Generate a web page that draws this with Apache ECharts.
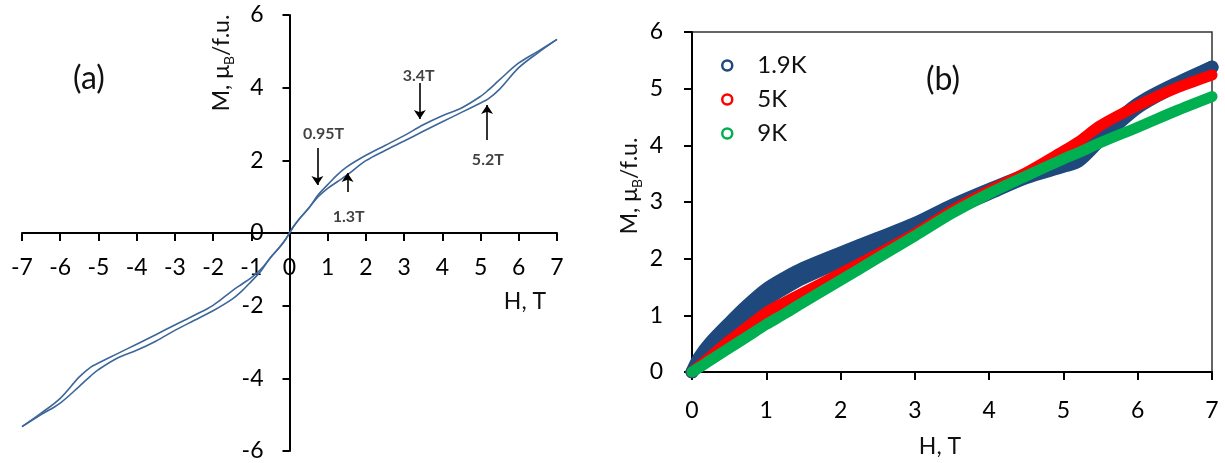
<!DOCTYPE html>
<html><head><meta charset="utf-8">
<script src="https://cdn.jsdelivr.net/npm/echarts@6/dist/echarts.min.js"></script>
<style>html,body{margin:0;padding:0;background:#fff}#c{width:1225px;height:463px}</style>
</head><body><div id="c"></div>
<script>
// ---------- Panel (a): hysteresis loop ----------
const hA = [-7, -6.5, -6, -5.5, -5.2, -5, -4.5, -4, -3.5, -3, -2.5, -2, -1.5, -1.25, -1, -0.75, -0.5, -0.25, -0.1, 0,
            0.1, 0.25, 0.5, 0.75, 1, 1.25, 1.5, 2, 2.5, 3, 3.5, 4, 4.5, 5, 5.2, 5.5, 6, 6.5, 7];
const mSweepUp = [-5.33, -5.0, -4.68, -4.22, -3.93, -3.76, -3.44, -3.23, -2.98, -2.68, -2.41, -2.14, -1.82, -1.6, -1.33, -1.05, -0.68, -0.38, -0.17, 0,
                  0.17, 0.38, 0.68, 1.0, 1.23, 1.41, 1.59, 1.99, 2.27, 2.53, 2.8, 3.06, 3.32, 3.58, 3.69, 3.96, 4.55, 4.96, 5.33];
const mSweepDown = [-5.33, -4.96, -4.55, -3.96, -3.69, -3.58, -3.32, -3.06, -2.8, -2.53, -2.27, -1.99, -1.59, -1.41, -1.23, -1.0, -0.68, -0.38, -0.17, 0,
                    0.17, 0.38, 0.68, 1.05, 1.33, 1.6, 1.82, 2.14, 2.41, 2.68, 2.98, 3.23, 3.44, 3.76, 3.93, 4.22, 4.68, 5.0, 5.33];
const annText = ['0.95T', '1.3T', '3.4T', '5.2T'];
const annPos = [[0.89, 2.72], [1.55, 0.44], [3.38, 4.32], [5.19, 2.01]];
const arrowFrom = [[0.73, 2.34], [1.52, 1.13], [3.41, 4.13], [5.17, 2.56]];
const arrowTo = [[0.73, 1.32], [1.52, 1.65], [3.41, 3.14], [5.17, 3.52]];

// ---------- Panel (b): M(H) at three temperatures ----------
const hB = [0, 0.1, 0.25, 0.5, 0.75, 1, 1.25, 1.5, 2, 2.5, 3, 3.5, 4, 4.5, 5, 5.2, 5.5, 6, 6.5, 7];
const m19KUpper = [0, 0.26, 0.52, 0.86, 1.18, 1.46, 1.66, 1.83, 2.1, 2.36, 2.62, 2.94, 3.22, 3.48, 3.69, 3.79, 4.18, 4.73, 5.08, 5.38];
const m19KLower = [0, 0.16, 0.38, 0.68, 0.98, 1.27, 1.48, 1.66, 1.95, 2.23, 2.52, 2.86, 3.15, 3.43, 3.63, 3.72, 4.1, 4.67, 5.04, 5.38];
const m5K = [0, 0.11, 0.27, 0.55, 0.8, 1.05, 1.23, 1.4, 1.74, 2.08, 2.44, 2.85, 3.2, 3.52, 3.9, 4.06, 4.35, 4.7, 5.0, 5.24];
const m9K = [0, 0.08, 0.21, 0.42, 0.63, 0.84, 1.03, 1.23, 1.62, 2.01, 2.4, 2.8, 3.15, 3.46, 3.76, 3.87, 4.05, 4.32, 4.6, 4.86];
const legendNames = ['1.9K', '5K', '9K'];
const colors = ['#1f497d', '#ff0000', '#00b050'];

const FF = 'Lato, "Open Sans", "DejaVu Sans", sans-serif';
const zip = (xs, ys) => xs.map((x, i) => [x, ys[i]]);

// axis ranges
const xA = {min: -7, max: 7, interval: 1}, yA = {min: -6, max: 6, interval: 2};
const xB = {min: 0, max: 7, interval: 1}, yB = {min: 0, max: 6, interval: 1};
const gridA = {left: 22, top: 15, width: 535, height: 436};
const gridB = {left: 692, top: 32, width: 520, height: 340};
// panel (a) axes cross at the origin: shift each axis from the grid edge to zero
const xAOffset = -gridA.height * (0 - yA.min) / (yA.max - yA.min);
const yAOffset = -gridA.width * (0 - xA.min) / (xA.max - xA.min);

const chart = echarts.init(document.getElementById('c'), null, {renderer: 'canvas'});

const blackLine = () => ({color: '#000', width: 2});
const mkAxis = (o) => Object.assign({
  type: 'value',
  splitLine: {show: false},
  axisLine: {show: true, onZero: false, lineStyle: blackLine()},
  axisTick: {show: true, inside: false, length: 8, lineStyle: blackLine()},
  axisLabel: {color: '#000', fontSize: 23, fontFamily: FF}
}, o);

const bandStyle = (c, w) => ({color: c, width: w, cap: 'round', join: 'round'});
const TOP = {zlevel: 1, z: 100};
const yTitle = (x, y) => Object.assign({type: 'text', x: x, y: y, rotation: Math.PI / 2,
  style: {text: '{n|M, μ}{s|B}{n|/f.u.}', align: 'center', verticalAlign: 'middle', fill: '#111',
    rich: {n: {fontSize: 23, fontFamily: FF, lineHeight: 28, fill: '#111'},
           s: {fontSize: 14, fontFamily: FF, lineHeight: 14, verticalAlign: 'bottom', fill: '#111'}}}}, TOP);
const plainText = (x, y, t, size) => Object.assign({type: 'text', x: x, y: y,
  style: {text: t, font: size + 'px ' + FF, fill: '#111', align: 'center', verticalAlign: 'middle'}}, TOP);

const option = {
  animation: false,
  backgroundColor: '#fff',
  grid: [
    Object.assign({show: false, outerBoundsMode: 'none', containLabel: false}, gridA),
    Object.assign({show: true, outerBoundsMode: 'none', containLabel: false, borderColor: '#333', borderWidth: 1.5,
                   backgroundColor: 'transparent'}, gridB)
  ],
  xAxis: [
    mkAxis(Object.assign({gridIndex: 0, position: 'bottom', offset: xAOffset,
      axisLabel: {color: '#000', fontSize: 23, fontFamily: FF, margin: 23}}, xA)),
    mkAxis(Object.assign({gridIndex: 1, position: 'bottom',
      axisLabel: {color: '#000', fontSize: 23, fontFamily: FF, margin: 27}}, xB))
  ],
  yAxis: [
    mkAxis(Object.assign({gridIndex: 0, position: 'left', offset: yAOffset,
      axisTick: {show: true, inside: false, length: 7, lineStyle: blackLine()},
      axisLabel: {color: '#000', fontSize: 23, fontFamily: FF, margin: 26}}, yA)),
    mkAxis(Object.assign({gridIndex: 1, position: 'left',
      axisLabel: {color: '#000', fontSize: 23, fontFamily: FF, margin: 29}}, yB))
  ],
  legend: {
    left: 716, top: 48, orient: 'vertical', itemGap: 9, itemWidth: 10, itemHeight: 10,
    textStyle: {fontSize: 24, fontFamily: FF, color: '#111', lineHeight: 25, padding: [0, 0, 0, 20]},
    data: legendNames.map((n, i) => ({name: n, icon: 'circle',
      itemStyle: {color: '#fff', borderColor: colors[i], borderWidth: 2.5}}))
  },
  series: [
    {name: 'loop-up', type: 'line', xAxisIndex: 0, yAxisIndex: 0, data: zip(hA, mSweepUp),
     showSymbol: false, smooth: 0.35, lineStyle: {color: '#3d6699', width: 1.6},
     markLine: {silent: true, symbol: ['none', 'arrow'], symbolSize: 9,
       label: {show: false}, lineStyle: {color: '#000', width: 1.6, type: 'solid'},
       data: arrowFrom.map((p, i) => [{coord: p}, {coord: arrowTo[i]}])}},
    {name: 'loop-down', type: 'line', xAxisIndex: 0, yAxisIndex: 0, data: zip(hA, mSweepDown),
     showSymbol: false, smooth: 0.35, lineStyle: {color: '#3d6699', width: 1.6}},
    {name: 'annotations', type: 'scatter', xAxisIndex: 0, yAxisIndex: 0, symbolSize: 0, silent: true,
     data: annPos.map((p, i) => [p[0], p[1], annText[i]]),
     label: {show: true, position: 'inside', formatter: p => p.data[2],
       fontSize: 16, fontWeight: 'bold', fontFamily: FF, color: '#111'}},
    {name: legendNames[0], type: 'line', xAxisIndex: 1, yAxisIndex: 1, data: zip(hB, m19KUpper),
     showSymbol: false, smooth: 0.3, lineStyle: bandStyle(colors[0], 13), itemStyle: {color: colors[0]}},
    {name: legendNames[0], type: 'line', xAxisIndex: 1, yAxisIndex: 1, data: zip(hB, m19KLower),
     showSymbol: false, smooth: 0.3, lineStyle: bandStyle(colors[0], 13), itemStyle: {color: colors[0]}},
    {name: legendNames[1], type: 'line', xAxisIndex: 1, yAxisIndex: 1, data: zip(hB, m5K),
     showSymbol: false, smooth: 0.3, lineStyle: bandStyle(colors[1], 11), itemStyle: {color: colors[1]}},
    {name: legendNames[2], type: 'line', xAxisIndex: 1, yAxisIndex: 1, data: zip(hB, m9K),
     showSymbol: false, smooth: 0.3, lineStyle: bandStyle(colors[2], 11), itemStyle: {color: colors[2]}}
  ],
  graphic: [
    plainText(89, 79, '(a)', 32),
    plainText(943, 80, '(b)', 32),
    plainText(525, 302, 'H, T', 23),
    plainText(940, 447, 'H, T', 23),
    yTitle(222, 63),
    yTitle(630, 186)
  ]
};
chart.setOption(option);
</script></body></html>
